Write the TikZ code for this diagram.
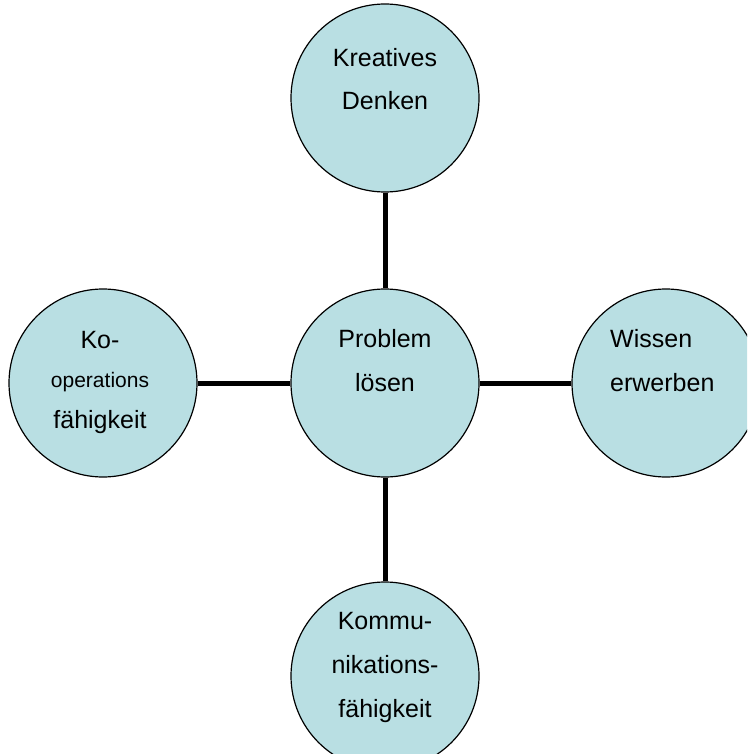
\documentclass[tikz,border=0pt]{standalone}
\usepackage{fontspec}
\setmainfont{Liberation Sans}
\definecolor{bubbleblue}{RGB}{185,223,227}

\begin{document}
\begin{tikzpicture}[x=1pt,y=-1pt]
\tikzstyle{bubble}=[circle,draw=black,line width=1.2pt,fill=bubbleblue,minimum size=188pt,inner sep=0pt]
\tikzstyle{word}=[align=center,font=\fontsize{25}{43.5}\selectfont,inner sep=0pt,anchor=base]
\tikzstyle{link}=[line width=5pt]
\useasboundingbox (0,0) rectangle (747,754);
\clip (0,0) rectangle (747,754);
\node[bubble] (C_mid) at (385,383) {};
\node[bubble] (C_top) at (385,98) {};
\node[bubble] (C_left) at (103,383) {};
\node[bubble] (C_right) at (666,383) {};
\node[bubble] (C_bot) at (385,676) {};
\draw[link] (C_top) -- (C_mid);
\draw[link] (C_mid) -- (C_bot);
\draw[link] (C_left) -- (C_mid);
\draw[link] (C_mid) -- (C_right);
\node[word] (T_top) at (385,110) {Kreatives\\Denken};
\node[word] (T_mid) at (385,391) {Problem\\lösen};
\node[word] (T_left) at (100,428) {Ko-\\[-4.5pt]{\fontsize{21}{21}\selectfont operations}\\[-2.5pt]fähigkeit};
\node[word,align=left,anchor=base west] (T_right) at (610,391) {Wissen\\erwerben};
\node[word] (T_bot) at (385,717) {Kommu-\\[0.5pt]nikations-\\[0.5pt]fähigkeit};
\end{tikzpicture}
\end{document}
